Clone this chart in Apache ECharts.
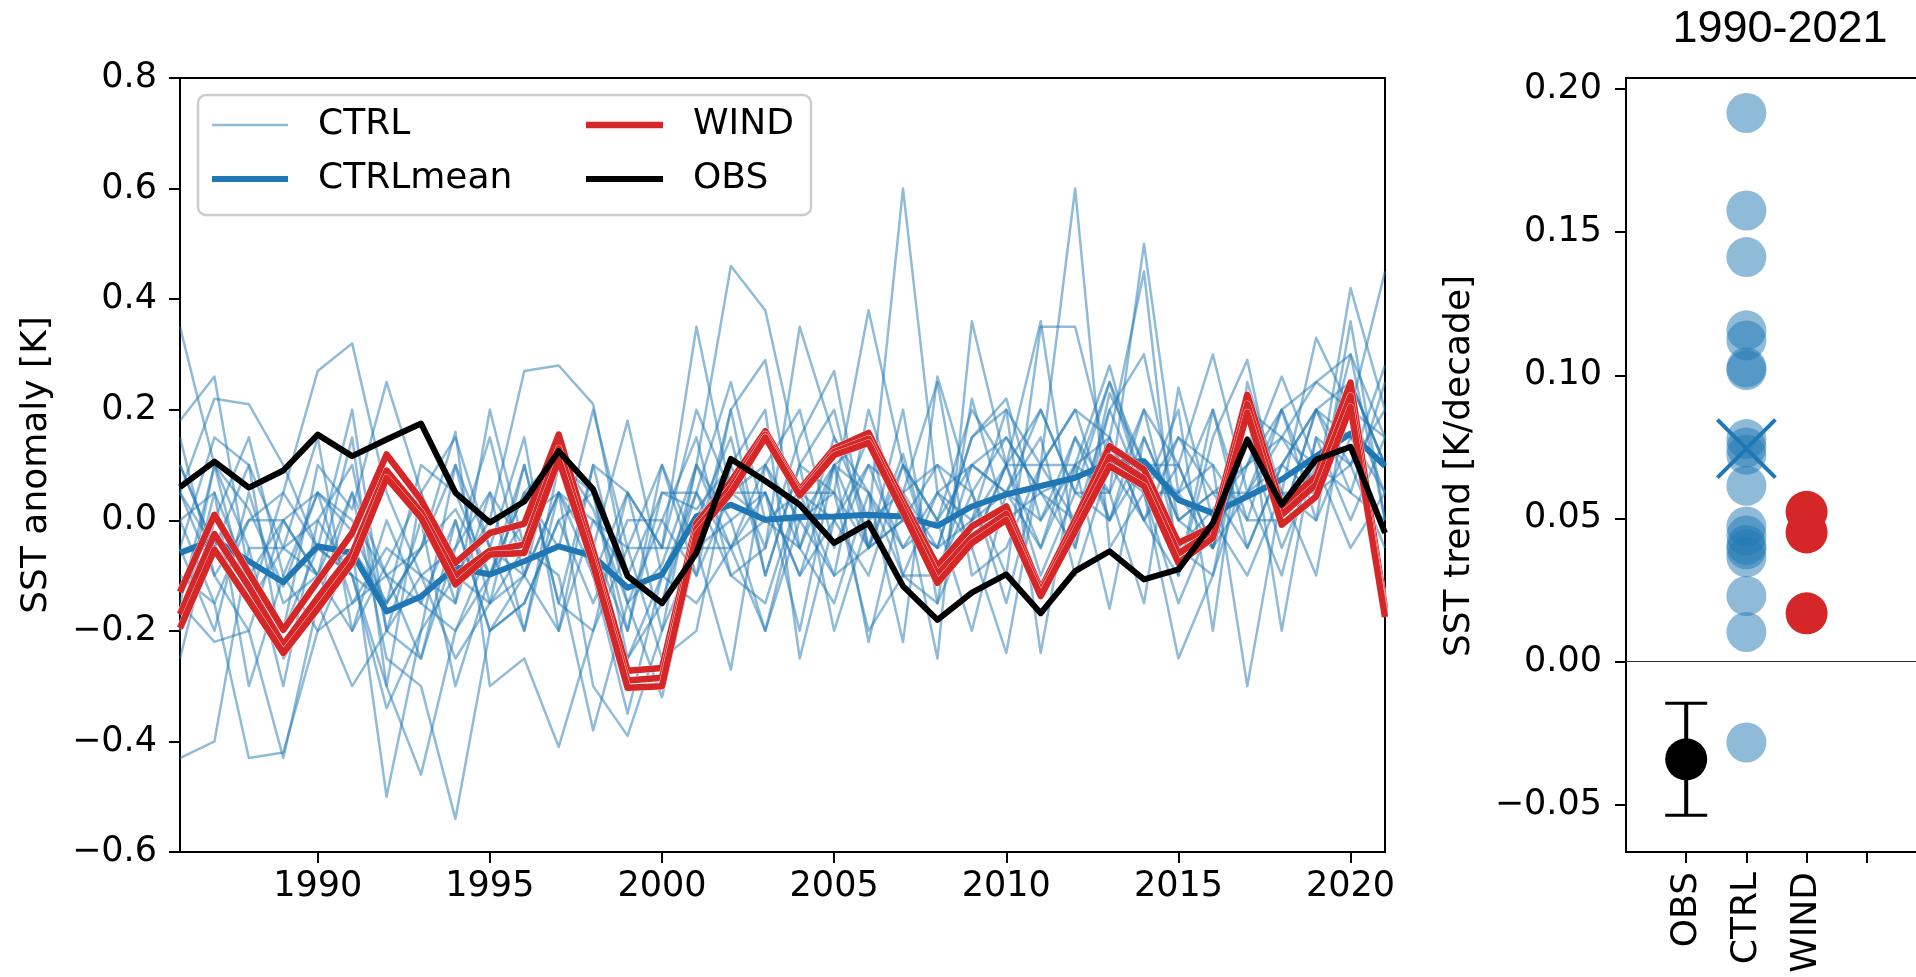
<!DOCTYPE html>
<html>
<head>
<meta charset="utf-8">
<script src="https://cdn.jsdelivr.net/npm/echarts@6/dist/echarts.min.js"></script>
<style>
html,body{margin:0;padding:0;background:#ffffff;}
#chart{width:1916px;height:977px;}
</style>
</head>
<body>
<div id="chart"></div>
<script>
// ---------------- data ----------------
const years = [1986,1987,1988,1989,1990,1991,1992,1993,1994,1995,1996,1997,1998,1999,2000,2001,2002,2003,2004,2005,2006,2007,2008,2009,2010,2011,2012,2013,2014,2015,2016,2017,2018,2019,2020,2021];

const obs = [0.060,0.106,0.059,0.090,0.155,0.116,0.146,0.175,0.050,-0.004,0.034,0.125,0.056,-0.101,-0.150,-0.059,0.111,0.071,0.028,-0.041,-0.005,-0.119,-0.180,-0.131,-0.098,-0.168,-0.092,-0.056,-0.107,-0.089,-0.005,0.146,0.028,0.110,0.133,-0.023];

const ctrlMean = [-0.059,-0.035,-0.074,-0.112,-0.047,-0.059,-0.165,-0.138,-0.085,-0.098,-0.074,-0.047,-0.065,-0.122,-0.098,0.007,0.028,0.001,0.006,0.007,0.010,0.007,-0.010,0.025,0.047,0.062,0.077,0.104,0.107,0.037,0.013,0.043,0.074,0.116,0.157,0.098];

const wind1 = [-0.130,0.010,-0.095,-0.198,-0.110,-0.023,0.119,0.037,-0.077,-0.023,-0.006,0.155,-0.055,-0.272,-0.267,-0.005,0.070,0.161,0.055,0.130,0.158,0.035,-0.083,-0.011,0.025,-0.125,0.000,0.134,0.092,-0.041,-0.011,0.227,0.025,0.080,0.249,-0.160];
const wind2 = [-0.170,-0.025,-0.120,-0.225,-0.140,-0.060,0.090,0.015,-0.100,-0.055,-0.044,0.130,-0.070,-0.290,-0.285,-0.015,0.060,0.155,0.050,0.124,0.148,0.025,-0.098,-0.030,0.012,-0.130,-0.010,0.115,0.075,-0.060,-0.020,0.210,0.010,0.065,0.225,-0.170];
const wind3 = [-0.195,-0.053,-0.145,-0.240,-0.160,-0.077,0.077,0.005,-0.116,-0.062,-0.059,0.110,-0.080,-0.303,-0.300,-0.025,0.050,0.150,0.045,0.118,0.140,0.015,-0.113,-0.041,0.001,-0.137,-0.020,0.098,0.062,-0.077,-0.032,0.195,-0.008,0.043,0.205,-0.175];

const ctrlMembers = [
 [0.35,0.10,0.02,-0.12,0.05,-0.02,-0.15,-0.05,0.02,-0.10,0.05,0.12,0.02,-0.15,-0.08,0.10,0.46,0.38,0.10,0.05,-0.05,0.12,-0.10,0.05,0.15,0.05,0.08,0.25,0.10,-0.05,0.02,0.10,0.20,0.05,0.30,0.15],
 [0.18,0.26,-0.10,-0.20,0.10,0.02,0.25,0.05,-0.10,-0.15,-0.05,0.10,-0.05,-0.20,0.05,0.02,0.10,-0.05,0.35,0.15,0.00,0.60,0.05,-0.05,0.10,0.20,0.05,0.05,0.20,0.10,-0.05,0.05,0.15,0.25,0.20,0.05],
 [-0.43,-0.40,-0.05,-0.05,-0.10,-0.20,-0.08,0.05,0.15,-0.05,-0.10,-0.20,0.10,0.05,-0.20,-0.05,0.00,0.05,-0.10,0.10,0.15,0.05,0.25,-0.10,-0.05,0.10,0.60,-0.05,0.05,0.15,0.05,0.05,-0.10,0.15,0.10,0.28],
 [0.05,0.22,0.21,0.10,-0.05,-0.10,-0.30,-0.46,-0.20,-0.10,0.05,-0.05,0.20,-0.05,-0.05,0.20,0.05,0.00,0.05,-0.10,0.20,0.00,0.10,0.05,-0.10,0.35,0.35,0.10,0.00,-0.10,0.20,-0.05,0.10,0.05,0.42,0.20],
 [-0.10,-0.15,-0.43,-0.42,-0.20,-0.05,-0.50,-0.20,0.10,-0.05,-0.20,0.05,-0.10,-0.35,-0.10,-0.15,-0.05,0.10,0.00,0.05,-0.20,-0.10,0.05,0.10,0.05,-0.05,0.10,0.05,0.50,0.05,-0.05,0.15,0.05,0.00,0.15,0.10],
 [0.10,-0.05,-0.15,0.05,0.27,0.32,0.05,-0.10,-0.25,-0.15,0.10,-0.15,-0.20,-0.05,0.10,-0.10,0.20,0.29,-0.05,-0.15,0.05,-0.10,-0.15,0.22,0.00,0.05,0.00,0.15,0.45,-0.10,0.15,0.29,0.00,0.20,0.05,0.00],
 [-0.15,-0.22,-0.20,-0.43,-0.15,0.05,-0.25,-0.30,-0.54,-0.20,-0.15,0.00,0.05,-0.25,-0.15,0.05,-0.10,-0.05,0.15,0.27,-0.05,0.00,-0.05,0.15,0.22,0.00,0.10,0.28,0.05,-0.25,-0.10,0.10,0.26,0.10,0.05,0.25],
 [0.00,0.05,-0.10,-0.20,-0.05,-0.10,-0.34,-0.20,-0.10,0.00,0.27,0.28,0.21,-0.10,-0.15,0.10,-0.05,-0.20,0.05,0.05,0.38,0.10,-0.10,-0.05,0.10,0.36,-0.05,0.23,0.10,0.05,0.10,-0.30,0.05,0.05,0.25,0.10],
 [-0.20,0.05,-0.30,-0.10,-0.20,-0.15,-0.10,-0.05,0.16,-0.30,-0.25,-0.41,-0.20,0.05,-0.05,0.35,0.05,0.05,-0.10,0.00,-0.10,0.10,0.00,-0.20,0.05,0.00,0.15,0.05,-0.15,0.24,0.00,-0.10,0.05,0.33,0.20,0.45],
 [0.05,-0.10,0.00,0.05,-0.05,0.20,-0.20,-0.10,-0.15,0.20,-0.05,-0.10,-0.38,-0.15,-0.32,-0.05,-0.27,0.10,-0.05,0.10,0.05,-0.22,0.26,0.05,-0.15,0.10,0.10,0.15,0.00,0.10,0.30,0.05,0.20,0.00,0.36,0.00],
 [-0.05,-0.20,0.05,-0.15,-0.10,-0.05,-0.15,0.10,0.05,-0.10,0.00,0.05,-0.05,0.18,-0.10,0.00,0.15,-0.10,0.10,-0.20,0.00,0.05,-0.25,0.36,0.10,-0.10,0.05,0.00,0.20,-0.05,-0.10,0.20,-0.20,0.15,0.00,0.15],
 [-0.15,0.10,-0.05,-0.30,0.00,0.10,-0.20,-0.25,-0.05,0.15,-0.10,0.05,-0.30,-0.39,-0.20,0.10,0.00,-0.20,0.00,0.10,-0.22,0.05,-0.05,0.00,0.20,-0.24,0.10,-0.16,0.15,0.00,0.05,-0.05,0.10,0.20,0.15,0.05],
 [0.05,-0.05,0.10,-0.05,0.15,-0.20,0.00,-0.15,-0.20,-0.05,0.15,-0.20,0.00,-0.05,-0.25,-0.20,0.10,0.20,-0.25,0.00,0.10,-0.05,0.00,0.10,0.05,0.15,-0.10,0.10,0.05,0.20,-0.20,0.25,0.05,-0.10,0.25,0.10],
 [-0.25,0.00,0.15,-0.10,0.05,0.00,-0.10,-0.25,0.00,-0.20,-0.15,0.00,-0.15,0.00,0.00,-0.10,0.05,0.10,0.20,-0.05,0.10,0.05,0.10,-0.05,-0.24,0.10,0.20,0.00,0.15,0.00,0.05,0.10,0.15,0.05,0.10,0.20],
 [0.15,-0.10,-0.20,0.00,-0.10,0.15,-0.30,0.05,-0.15,0.05,-0.20,0.10,0.05,-0.20,0.10,-0.05,0.20,-0.10,0.10,0.20,-0.05,0.20,-0.15,0.00,0.10,0.10,0.20,0.15,0.00,0.15,0.10,0.00,0.20,0.25,0.30,0.00],
 [-0.05,0.15,0.10,-0.25,-0.15,-0.30,-0.20,0.00,-0.30,-0.10,0.10,-0.15,0.10,-0.15,0.00,0.15,-0.10,-0.15,0.05,0.00,0.15,-0.10,-0.10,0.10,0.15,0.05,-0.05,0.20,0.30,0.00,-0.05,0.15,-0.05,0.10,-0.05,0.05],
 [0.00,-0.15,0.00,0.00,0.05,-0.15,-0.05,-0.10,-0.05,0.05,-0.05,0.15,-0.10,-0.25,-0.10,0.05,0.25,0.00,-0.05,0.15,0.05,-0.05,0.05,0.00,0.05,0.20,0.05,0.25,0.05,0.05,0.20,0.00,0.00,0.20,0.10,-0.05],
 [-0.20,0.10,-0.15,-0.05,0.00,-0.10,-0.15,-0.05,0.10,-0.15,-0.10,0.15,-0.10,0.05,-0.05,-0.05,-0.05,0.05,-0.20,0.10,-0.05,0.10,0.00,0.20,0.10,-0.05,0.15,0.00,0.10,0.10,-0.05,0.20,0.15,0.10,0.20,0.15],
 [0.10,-0.05,-0.10,0.00,-0.10,0.05,-0.10,-0.15,0.00,-0.20,-0.10,0.05,0.00,-0.10,0.05,0.05,-0.05,0.00,0.00,-0.10,-0.05,0.00,-0.05,0.15,0.20,0.10,0.00,0.20,0.05,-0.15,0.00,0.05,0.10,0.20,0.25,0.10]
];

const xTicksLeft = [1990,1995,2000,2005,2010,2015,2020];
const yTicksLeft = [-0.6,-0.4,-0.2,0.0,0.2,0.4,0.6,0.8];

const trendCategories = ['OBS','CTRL','WIND'];
const trendObs = -0.0342;
const trendObsRange = [-0.0538,-0.0146];
const trendCtrl = [0.1917,0.1576,0.1413,0.1157,0.1122,0.1027,0.1018,0.0777,0.0748,0.0722,0.0614,0.0472,0.0440,0.0407,0.0392,0.0364,0.0229,0.0103,-0.0283];
const trendCtrlMean = 0.0744;
const trendWind = [0.0523,0.0451,0.0168];
const yTicksRight = [-0.05,0.00,0.05,0.10,0.15,0.20];
const xTicksRight = [1,2,3,4];

// ---------------- styling constants ----------------
const FONT = '"DejaVu Sans", sans-serif';
const BLUE = '#1f77b4', RED = '#d62728';
const minus = s => s.replace('-', '\u2212');

const pair = arr => years.map((y, i) => [y, arr[i]]);

const series = [];
ctrlMembers.forEach(m => {
  series.push({
    type: 'line', name: 'CTRL', xAxisIndex: 0, yAxisIndex: 0, data: pair(m),
    symbol: 'none', silent: true, animation: false,
    lineStyle: { color: BLUE, width: 2.5, opacity: 0.5, join: 'round' }
  });
});
series.push({
  type: 'line', name: 'CTRLmean', xAxisIndex: 0, yAxisIndex: 0, data: pair(ctrlMean),
  symbol: 'none', silent: true, animation: false,
  lineStyle: { color: BLUE, width: 6, join: 'round' }
});
[wind1, wind2, wind3].forEach(w => {
  series.push({
    type: 'line', name: 'WINDedge', xAxisIndex: 0, yAxisIndex: 0, data: pair(w),
    symbol: 'none', silent: true, animation: false,
    lineStyle: { color: '#ffffff', width: 7.1, join: 'round' }
  });
  series.push({
    type: 'line', name: 'WIND', xAxisIndex: 0, yAxisIndex: 0, data: pair(w),
    symbol: 'none', silent: true, animation: false,
    lineStyle: { color: RED, width: 6.5, join: 'round' }
  });
});
series.push({
  type: 'line', name: 'OBS', xAxisIndex: 0, yAxisIndex: 0, data: pair(obs),
  symbol: 'none', silent: true, animation: false,
  lineStyle: { color: '#000000', width: 6, join: 'round' }
});

// right panel
series.push({
  type: 'custom', xAxisIndex: 1, yAxisIndex: 1, silent: true, animation: false,
  data: [[1, trendObsRange[0], trendObsRange[1]]],
  renderItem: (params, api) => {
    const x = api.value(0);
    const lo = api.coord([x, api.value(1)]);
    const hi = api.coord([x, api.value(2)]);
    const cw = 21;
    return {
      type: 'group', children: [
        { type: 'line', shape: { x1: lo[0], y1: lo[1], x2: hi[0], y2: hi[1] }, style: { stroke: '#000', lineWidth: 4 } },
        { type: 'line', shape: { x1: lo[0] - cw, y1: lo[1], x2: lo[0] + cw, y2: lo[1] }, style: { stroke: '#000', lineWidth: 3 } },
        { type: 'line', shape: { x1: hi[0] - cw, y1: hi[1], x2: hi[0] + cw, y2: hi[1] }, style: { stroke: '#000', lineWidth: 3 } }
      ]
    };
  }
});
series.push({
  type: 'scatter', xAxisIndex: 1, yAxisIndex: 1, silent: true, animation: false,
  data: [[1, trendObs]], symbolSize: 42, itemStyle: { color: '#000000', opacity: 1 }
});
series.push({
  type: 'scatter', xAxisIndex: 1, yAxisIndex: 1, silent: true, animation: false,
  data: trendCtrl.map(v => [2, v]), symbolSize: 40, itemStyle: { color: BLUE, opacity: 0.5 },
  markLine: {
    silent: true, symbol: 'none', animation: false, label: { show: false },
    lineStyle: { color: '#333333', width: 1, type: 'solid' },
    data: [{ yAxis: 0 }]
  }
});
series.push({
  type: 'scatter', xAxisIndex: 1, yAxisIndex: 1, silent: true, animation: false,
  data: [[2, trendCtrlMean]], symbol: 'path://M0,0L10,10M10,0L0,10', symbolSize: 58,
  itemStyle: { color: 'none', borderColor: BLUE, borderWidth: 4, opacity: 1 }
});
series.push({
  type: 'scatter', xAxisIndex: 1, yAxisIndex: 1, silent: true, animation: false,
  data: trendWind.map(v => [3, v]), symbolSize: 42, itemStyle: { color: RED, opacity: 1 }
});

const axisLineStyle = { show: true, onZero: false, lineStyle: { color: '#000', width: 2 } };
const tickStyle = (vals) => ({ show: true, inside: false, length: 11, lineStyle: { color: '#000', width: 2 }, customValues: vals });

const option = {
  backgroundColor: '#ffffff',
  animation: false,
  grid: [
    { left: 180, top: 78, width: 1205, height: 774, show: true, borderColor: '#000', borderWidth: 2, backgroundColor: 'transparent', containLabel: false, outerBoundsMode: 'none' },
    { left: 1626, top: 78, width: 301, height: 774, show: true, borderColor: '#000', borderWidth: 2, backgroundColor: 'transparent', containLabel: false, outerBoundsMode: 'none' }
  ],
  xAxis: [
    {
      type: 'value', gridIndex: 0, min: 1986, max: 2021, splitLine: { show: false },
      axisLine: axisLineStyle, axisTick: tickStyle(xTicksLeft),
      axisLabel: { customValues: xTicksLeft, formatter: v => String(v), fontSize: 35, fontFamily: FONT, color: '#000', margin: 17 }
    },
    {
      type: 'value', gridIndex: 1, min: 0, max: 5, splitLine: { show: false },
      axisLine: axisLineStyle, axisTick: tickStyle(xTicksRight),
      axisLabel: { customValues: [1, 2, 3], formatter: v => trendCategories[Math.round(v) - 1] || '', rotate: 90, fontSize: 36, fontFamily: FONT, color: '#000', margin: 20 }
    }
  ],
  yAxis: [
    {
      type: 'value', gridIndex: 0, min: -0.6, max: 0.8, splitLine: { show: false },
      axisLine: axisLineStyle, axisTick: tickStyle(yTicksLeft),
      axisLabel: { customValues: yTicksLeft, formatter: v => minus(v.toFixed(1)), fontSize: 35, fontFamily: FONT, color: '#000', margin: 23 }
    },
    {
      type: 'value', gridIndex: 1, min: -0.0666, max: 0.2039, splitLine: { show: false },
      axisLine: axisLineStyle, axisTick: tickStyle(yTicksRight),
      axisLabel: { customValues: yTicksRight, formatter: v => minus(v.toFixed(2)), fontSize: 35, fontFamily: FONT, color: '#000', margin: 24 }
    }
  ],
  graphic: [
    { type: 'text', x: 37, y: 465, rotation: Math.PI / 2, style: { text: 'SST anomaly [K]', font: '36px ' + FONT, fill: '#000', textAlign: 'center', textVerticalAlign: 'middle' } },
    { type: 'text', x: 1460, y: 466, rotation: Math.PI / 2, style: { text: 'SST trend [K/decade]', font: '36px ' + FONT, fill: '#000', textAlign: 'center', textVerticalAlign: 'middle' } },
    { type: 'text', x: 1780, y: 30, style: { text: '1990-2021', font: '45px "Liberation Sans", Arial, sans-serif', fill: '#000', textAlign: 'center', textVerticalAlign: 'middle' } },
    { type: 'group', z: 100, children: [
      { type: 'rect', shape: { x: 198, y: 95, width: 613, height: 120, r: 8 }, style: { fill: 'rgba(255,255,255,0.8)', stroke: '#cccccc', lineWidth: 2.5 } },
      { type: 'line', shape: { x1: 212, y1: 125, x2: 288, y2: 125 }, style: { stroke: BLUE, lineWidth: 2.5, opacity: 0.5 } },
      { type: 'line', shape: { x1: 212, y1: 179, x2: 288, y2: 179 }, style: { stroke: BLUE, lineWidth: 6 } },
      { type: 'line', shape: { x1: 586, y1: 125, x2: 663, y2: 125 }, style: { stroke: RED, lineWidth: 6.5 } },
      { type: 'line', shape: { x1: 586, y1: 179, x2: 663, y2: 179 }, style: { stroke: '#000', lineWidth: 6 } },
      { type: 'text', x: 318, y: 125, style: { text: 'CTRL', font: '36px ' + FONT, fill: '#000', textAlign: 'left', textVerticalAlign: 'middle' } },
      { type: 'text', x: 318, y: 179, style: { text: 'CTRLmean', font: '36px ' + FONT, fill: '#000', textAlign: 'left', textVerticalAlign: 'middle' } },
      { type: 'text', x: 693, y: 125, style: { text: 'WIND', font: '36px ' + FONT, fill: '#000', textAlign: 'left', textVerticalAlign: 'middle' } },
      { type: 'text', x: 693, y: 179, style: { text: 'OBS', font: '36px ' + FONT, fill: '#000', textAlign: 'left', textVerticalAlign: 'middle' } }
    ]}
  ],
  series: series
};

const chart = echarts.init(document.getElementById('chart'), null, { renderer: 'canvas', width: 1916, height: 977 });
chart.setOption(option);
</script>
</body>
</html>
